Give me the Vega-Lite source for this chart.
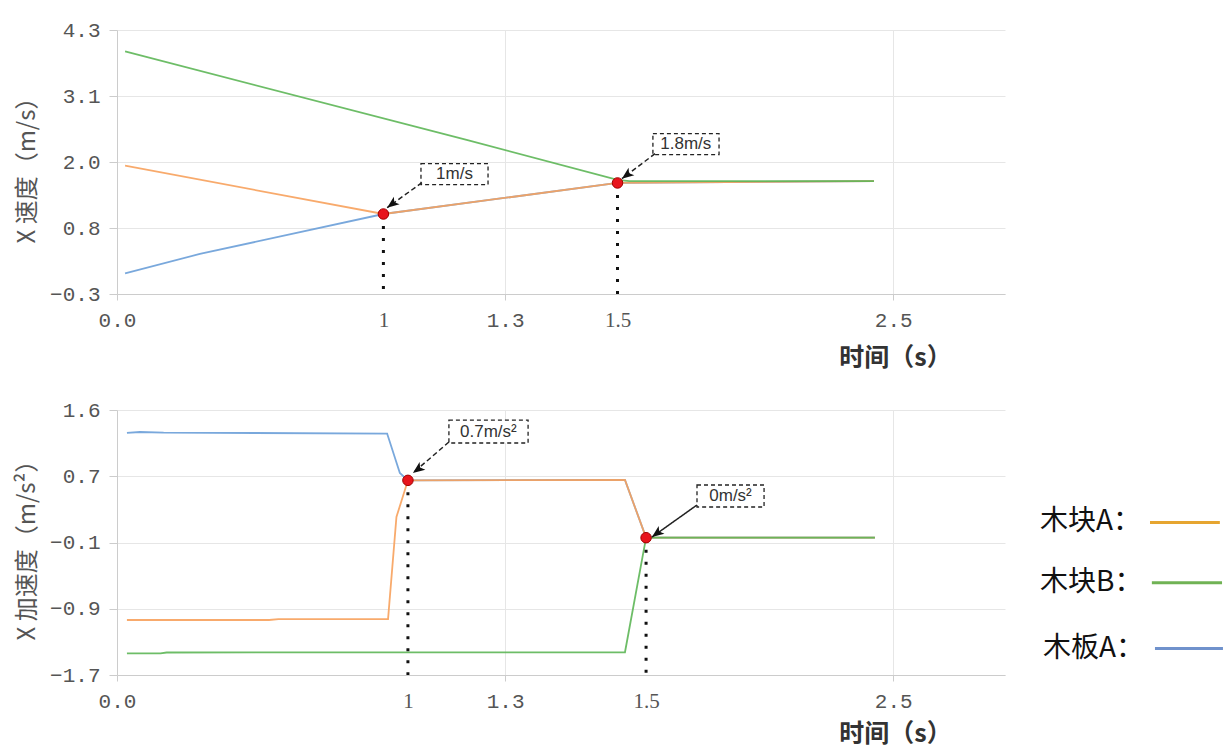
{
  "$schema": "https://vega.github.io/schema/vega-lite/v6.json",
  "background": "white",
  "padding": {"left": 15, "top": 19, "right": 5, "bottom": 4},
  "spacing": 29,
  "config": {
    "view": {"stroke": null},
    "axis": {
      "domainColor": "#cccccc",
      "gridColor": "#e6e6e6",
      "tickColor": "#cccccc",
      "labelColor": "#555555",
      "labelFontSize": 21,
      "labelFont": "Liberation Mono",
      "labelOverlap": false,
      "labelFlush": false,
      "titleColor": "#444444"
    }
  },
  "datasets": {
    "velLines": [
      {"body": "木板A", "t": 0.026, "v": 0.06},
      {"body": "木板A", "t": 0.267, "v": 0.398},
      {"body": "木板A", "t": 0.858, "v": 1.094},
      {"body": "木板A", "t": 1.612, "v": 1.635},
      {"body": "木板A", "t": 2.438, "v": 1.668},
      {"body": "木块A", "t": 0.026, "v": 1.936},
      {"body": "木块A", "t": 0.858, "v": 1.094},
      {"body": "木块A", "t": 1.612, "v": 1.635},
      {"body": "木块A", "t": 2.438, "v": 1.668},
      {"body": "木块B", "t": 0.026, "v": 3.927},
      {"body": "木块B", "t": 1.126, "v": 2.384},
      {"body": "木块B", "t": 1.612, "v": 1.69},
      {"body": "木块B", "t": 1.65, "v": 1.668},
      {"body": "木块B", "t": 2.438, "v": 1.668}
    ],
    "velDots": [
      {"t": 0.858, "v": 1.094},
      {"t": 1.612, "v": 1.635}
    ],
    "velNotes": [
      {"label": "1m/s", "arrow": "dashed", "t": 1.087, "v": 1.788, "bt1": 0.979, "bt2": 1.195, "bv1": 1.971, "bv2": 1.605, "at1": 0.982, "av1": 1.64, "at2": 0.87, "av2": 1.204},
      {"label": "1.8m/s", "arrow": "dashed", "t": 1.832, "v": 2.31, "bt1": 1.726, "bt2": 1.939, "bv1": 2.493, "bv2": 2.128, "at1": 1.733, "av1": 2.145, "at2": 1.626, "av2": 1.709}
    ],
    "accLines": [
      {"body": "木板A", "t": 0.032, "a": 1.314},
      {"body": "木板A", "t": 0.074, "a": 1.326},
      {"body": "木板A", "t": 0.15, "a": 1.318},
      {"body": "木板A", "t": 0.87, "a": 1.307},
      {"body": "木板A", "t": 0.911, "a": 0.815},
      {"body": "木板A", "t": 0.937, "a": 0.724},
      {"body": "木板A", "t": 1.636, "a": 0.73},
      {"body": "木板A", "t": 1.704, "a": 0.01},
      {"body": "木板A", "t": 2.441, "a": 0.01},
      {"body": "木块A", "t": 0.032, "a": -1.015},
      {"body": "木块A", "t": 0.49, "a": -1.015},
      {"body": "木块A", "t": 0.52, "a": -1.003},
      {"body": "木块A", "t": 0.873, "a": -1.003},
      {"body": "木块A", "t": 0.9, "a": 0.268},
      {"body": "木块A", "t": 0.937, "a": 0.724},
      {"body": "木块A", "t": 1.636, "a": 0.73},
      {"body": "木块A", "t": 1.704, "a": 0.01},
      {"body": "木块A", "t": 2.441, "a": 0.01},
      {"body": "木块B", "t": 0.032, "a": -1.43},
      {"body": "木块B", "t": 0.14, "a": -1.43},
      {"body": "木块B", "t": 0.16, "a": -1.42},
      {"body": "木块B", "t": 1.636, "a": -1.417},
      {"body": "木块B", "t": 1.704, "a": 0.01},
      {"body": "木块B", "t": 2.441, "a": 0.01}
    ],
    "accDots": [
      {"t": 0.937, "a": 0.724},
      {"t": 1.704, "a": 0.01}
    ],
    "accNotes": [
      {"label": "0.7m/s²", "arrow": "dashed", "t": 1.196, "a": 1.332, "bt1": 1.069, "bt2": 1.324, "ba1": 1.475, "ba2": 1.189, "at1": 1.069, "aa1": 1.201, "at2": 0.953, "aa2": 0.815},
      {"label": "0m/s²", "arrow": "solid", "t": 1.976, "a": 0.529, "bt1": 1.868, "bt2": 2.084, "ba1": 0.666, "ba2": 0.392, "at1": 1.868, "aa1": 0.417, "at2": 1.723, "aa2": 0.018}
    ],
    "legendRows": [
      {"body": "木块A", "text": "木块A：", "t": 2.973, "a": 0.2, "lt1": 3.327, "lt2": 3.552},
      {"body": "木块B", "text": "木块B：", "t": 2.973, "a": -0.55, "lt1": 3.333, "lt2": 3.559},
      {"body": "木板A", "text": "木板A：", "t": 2.982, "a": -1.37, "lt1": 3.343, "lt2": 3.562}
    ]
  },
  "vconcat": [
    {
      "width": 888,
      "height": 264,
      "encoding": {
        "x": {
          "field": "t",
          "type": "quantitative",
          "scale": {"domain": [0, 2.86], "nice": false, "zero": false},
          "axis": {
            "values": [0, 0.858, 1.25, 1.612, 2.5],
            "labelExpr": "datum.value < 0.1 ? '0.0' : datum.value < 1 ? '1' : datum.value < 1.4 ? '1.3' : datum.value < 2 ? '1.5' : '2.5'",
            "labelFont": {"condition": {"test": "(datum.value > 0.5 && datum.value < 1) || (datum.value > 1.4 && datum.value < 2)", "value": "Liberation Serif"}, "value": "Liberation Mono"},
            "gridOpacity": {"condition": {"test": "(datum.value > 0.5 && datum.value < 1) || (datum.value > 1.4 && datum.value < 2)", "value": 0}, "value": 1},
            "tickOpacity": {"condition": {"test": "(datum.value > 0.5 && datum.value < 1) || (datum.value > 1.4 && datum.value < 2)", "value": 0}, "value": 1},
            "tickSize": 6,
            "labelPadding": 9,
            "title": "时间（s）",
            "titleFont": "Noto Sans CJK SC",
            "titleFontSize": 25,
            "titleFontWeight": "bold",
            "titleColor": "#333333",
            "titleX": 778,
            "titleY": 63,
            "titleAlign": "center",
            "titleBaseline": "middle"
          }
        },
        "y": {
          "field": "v",
          "type": "quantitative",
          "scale": {"domain": [-0.3, 4.3], "nice": false, "zero": false},
          "axis": {
            "values": [-0.3, 0.85, 2.0, 3.15, 4.3],
            "labelExpr": "datum.value < 0 ? '−0.3' : datum.value < 1 ? '0.8' : datum.value < 2.5 ? '2.0' : datum.value < 4 ? '3.1' : '4.3'",
            "tickSize": 8,
            "labelPadding": 9,
            "title": "X 速度（m/s）",
            "titleFont": "Noto Sans CJK SC",
            "titleFontSize": 24,
            "titleFontWeight": "normal",
            "titleColor": "#555555",
            "titleX": -90,
            "titleY": 134,
            "titleAngle": 270,
            "titleAlign": "center",
            "titleBaseline": "middle"
          }
        }
      },
      "layer": [
        {"data": {"name": "velLines"}, "transform": [{"filter": "datum.body == '木板A'"}], "mark": {"type": "line", "color": "#6a9fd8", "strokeWidth": 1.8, "opacity": 0.9}},
        {"data": {"name": "velLines"}, "transform": [{"filter": "datum.body == '木块A'"}], "mark": {"type": "line", "color": "#f7a15c", "strokeWidth": 1.8, "opacity": 0.9}},
        {"data": {"name": "velLines"}, "transform": [{"filter": "datum.body == '木块B'"}], "mark": {"type": "line", "color": "#5db656", "strokeWidth": 1.8, "opacity": 0.9}},
        {"data": {"name": "velDots"}, "mark": {"type": "rule", "color": "#111111", "strokeWidth": 3, "strokeDash": [3, 9]}, "encoding": {"y2": {"datum": -0.3}}},
        {"data": {"name": "velDots"}, "mark": {"type": "point", "filled": true, "color": "#e8141c", "stroke": "#a00000", "strokeWidth": 1, "size": 110, "opacity": 1}},
        {"data": {"name": "velNotes"}, "mark": {"type": "rect", "fill": "white", "stroke": "#222222", "strokeWidth": 1.3, "strokeDash": [4, 3]}, "encoding": {"x": {"field": "bt1", "type": "quantitative"}, "x2": {"field": "bt2"}, "y": {"field": "bv1", "type": "quantitative"}, "y2": {"field": "bv2"}}},
        {"data": {"name": "velNotes"}, "mark": {"type": "text", "font": "Liberation Sans", "fontSize": 17, "color": "#333333", "align": "center", "baseline": "middle"}, "encoding": {"text": {"field": "label"}}},
        {"data": {"name": "velNotes"}, "mark": {"type": "rule", "color": "#222222", "strokeWidth": 1.5}, "encoding": {"x": {"field": "at1", "type": "quantitative"}, "y": {"field": "av1", "type": "quantitative"}, "x2": {"field": "at2"}, "y2": {"field": "av2"}, "strokeDash": {"field": "arrow", "type": "nominal", "scale": {"domain": ["dashed", "solid"], "range": [[5, 3], [1, 0]]}, "legend": null}}},
        {"data": {"name": "velNotes"}, "mark": {"type": "point", "filled": true, "color": "#111111", "opacity": 1, "shape": "M0,0L-0.4,1L0,0.75L0.4,1Z", "size": 576, "angle": 233}, "encoding": {"x": {"field": "at2", "type": "quantitative"}, "y": {"field": "av2", "type": "quantitative"}}}
      ]
    },
    {
      "width": 888,
      "height": 265,
      "encoding": {
        "x": {
          "field": "t",
          "type": "quantitative",
          "scale": {"domain": [0, 2.86], "nice": false, "zero": false},
          "axis": {
            "values": [0, 0.937, 1.25, 1.704, 2.5],
            "labelExpr": "datum.value < 0.1 ? '0.0' : datum.value < 1 ? '1' : datum.value < 1.4 ? '1.3' : datum.value < 2 ? '1.5' : '2.5'",
            "labelFont": {"condition": {"test": "(datum.value > 0.5 && datum.value < 1) || (datum.value > 1.4 && datum.value < 2)", "value": "Liberation Serif"}, "value": "Liberation Mono"},
            "gridOpacity": {"condition": {"test": "(datum.value > 0.5 && datum.value < 1) || (datum.value > 1.4 && datum.value < 2)", "value": 0}, "value": 1},
            "tickOpacity": {"condition": {"test": "(datum.value > 0.5 && datum.value < 1) || (datum.value > 1.4 && datum.value < 2)", "value": 0}, "value": 1},
            "tickSize": 6,
            "labelPadding": 9,
            "title": "时间（s）",
            "titleFont": "Noto Sans CJK SC",
            "titleFontSize": 25,
            "titleFontWeight": "bold",
            "titleColor": "#333333",
            "titleX": 778,
            "titleY": 58,
            "titleAlign": "center",
            "titleBaseline": "middle"
          }
        },
        "y": {
          "field": "a",
          "type": "quantitative",
          "scale": {"domain": [-1.7, 1.6], "nice": false, "zero": false},
          "axis": {
            "values": [-1.7, -0.875, -0.05, 0.775, 1.6],
            "labelExpr": "datum.value < -1.2 ? '−1.7' : datum.value < -0.5 ? '−0.9' : datum.value < 0 ? '−0.1' : datum.value < 1 ? '0.7' : '1.6'",
            "tickSize": 8,
            "labelPadding": 9,
            "title": "X 加速度（m/s²）",
            "titleFont": "Noto Sans CJK SC",
            "titleFontSize": 24,
            "titleFontWeight": "normal",
            "titleColor": "#555555",
            "titleX": -90,
            "titleY": 134,
            "titleAngle": 270,
            "titleAlign": "center",
            "titleBaseline": "middle"
          }
        }
      },
      "layer": [
        {"data": {"name": "accLines"}, "transform": [{"filter": "datum.body == '木板A'"}], "mark": {"type": "line", "color": "#6a9fd8", "strokeWidth": 1.8, "opacity": 0.9}},
        {"data": {"name": "accLines"}, "transform": [{"filter": "datum.body == '木块A'"}], "mark": {"type": "line", "color": "#f7a15c", "strokeWidth": 1.8, "opacity": 0.9}},
        {"data": {"name": "accLines"}, "transform": [{"filter": "datum.body == '木块B'"}], "mark": {"type": "line", "color": "#5db656", "strokeWidth": 1.8, "opacity": 0.9}},
        {"data": {"name": "accDots"}, "mark": {"type": "rule", "color": "#111111", "strokeWidth": 3, "strokeDash": [3, 9]}, "encoding": {"y2": {"datum": -1.7}}},
        {"data": {"name": "accDots"}, "mark": {"type": "point", "filled": true, "color": "#e8141c", "stroke": "#a00000", "strokeWidth": 1, "size": 110, "opacity": 1}},
        {"data": {"name": "accNotes"}, "mark": {"type": "rect", "fill": "white", "stroke": "#222222", "strokeWidth": 1.3, "strokeDash": [4, 3]}, "encoding": {"x": {"field": "bt1", "type": "quantitative"}, "x2": {"field": "bt2"}, "y": {"field": "ba1", "type": "quantitative"}, "y2": {"field": "ba2"}}},
        {"data": {"name": "accNotes"}, "mark": {"type": "text", "font": "Liberation Sans", "fontSize": 17, "color": "#333333", "align": "center", "baseline": "middle"}, "encoding": {"text": {"field": "label"}}},
        {"data": {"name": "accNotes"}, "mark": {"type": "rule", "color": "#222222", "strokeWidth": 1.5}, "encoding": {"x": {"field": "at1", "type": "quantitative"}, "y": {"field": "aa1", "type": "quantitative"}, "x2": {"field": "at2"}, "y2": {"field": "aa2"}, "strokeDash": {"field": "arrow", "type": "nominal", "scale": {"domain": ["dashed", "solid"], "range": [[5, 3], [1, 0]]}, "legend": null}}},
        {"data": {"name": "accNotes"}, "mark": {"type": "point", "filled": true, "color": "#111111", "opacity": 1, "shape": "M0,0L-0.4,1L0,0.75L0.4,1Z", "size": 576, "angle": 233}, "encoding": {"x": {"field": "at2", "type": "quantitative"}, "y": {"field": "aa2", "type": "quantitative"}}},
        {"data": {"name": "legendRows"}, "mark": {"type": "text", "font": "Noto Sans CJK SC", "fontSize": 28, "color": "#111111", "align": "left", "baseline": "middle"}, "encoding": {"text": {"field": "text"}}},
        {"data": {"name": "legendRows"}, "mark": {"type": "rule", "strokeWidth": 3}, "encoding": {"x": {"field": "lt1", "type": "quantitative"}, "x2": {"field": "lt2"}, "color": {"field": "body", "type": "nominal", "scale": {"domain": ["木块A", "木块B", "木板A"], "range": ["#e6a530", "#70b254", "#7092cc"]}, "legend": null}}}
      ]
    }
  ]
}
